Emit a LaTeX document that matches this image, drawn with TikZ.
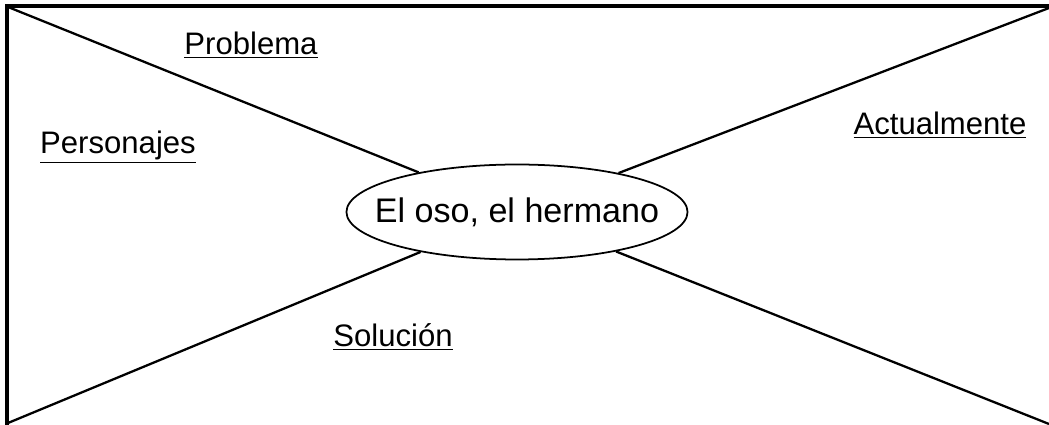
\documentclass[tikz,border=0pt]{standalone}
\usepackage{fontspec}
\setmainfont{Liberation Sans}
\usetikzlibrary{shapes.geometric}

\begin{document}
\begin{tikzpicture}[x=0.02cm,y=-0.02cm,
  frame/.style={line width=1.8pt},
  spoke/.style={line width=1.3pt},
  label/.style={font=\fontsize{17.7}{21}\selectfont},
  hub/.style={ellipse,draw,line width=1pt,fill=white,minimum width=6.8cm,minimum height=1.9cm,inner xsep=-0.43cm,inner ysep=0pt,font=\fontsize{19.4}{23}\selectfont}]
\useasboundingbox (0,0) rectangle (1049,425);
\draw[frame] (7,425) -- (7,6) -- (1049,6);
\coordinate (tl) at (8,7);
\coordinate (tr) at (1049,8);
\coordinate (bl) at (8,423);
\coordinate (br) at (1049,424);
\node[hub] (book) at (517,212) {El oso, el hermano};
\draw[spoke] (tl) -- (book);
\draw[spoke] (tr) -- (book);
\draw[spoke] (bl) -- (book);
\draw[spoke] (br) -- (book);
\node[label] (problema) at (251,45) {\underline{Problema}};
\node[label] (personajes) at (118,147) {\underline{Personajes}};
\node[label] (actualmente) at (940,125) {\underline{Actualmente}};
\node[label] (solucion) at (393,337) {\underline{Solución}};
\end{tikzpicture}
\end{document}
